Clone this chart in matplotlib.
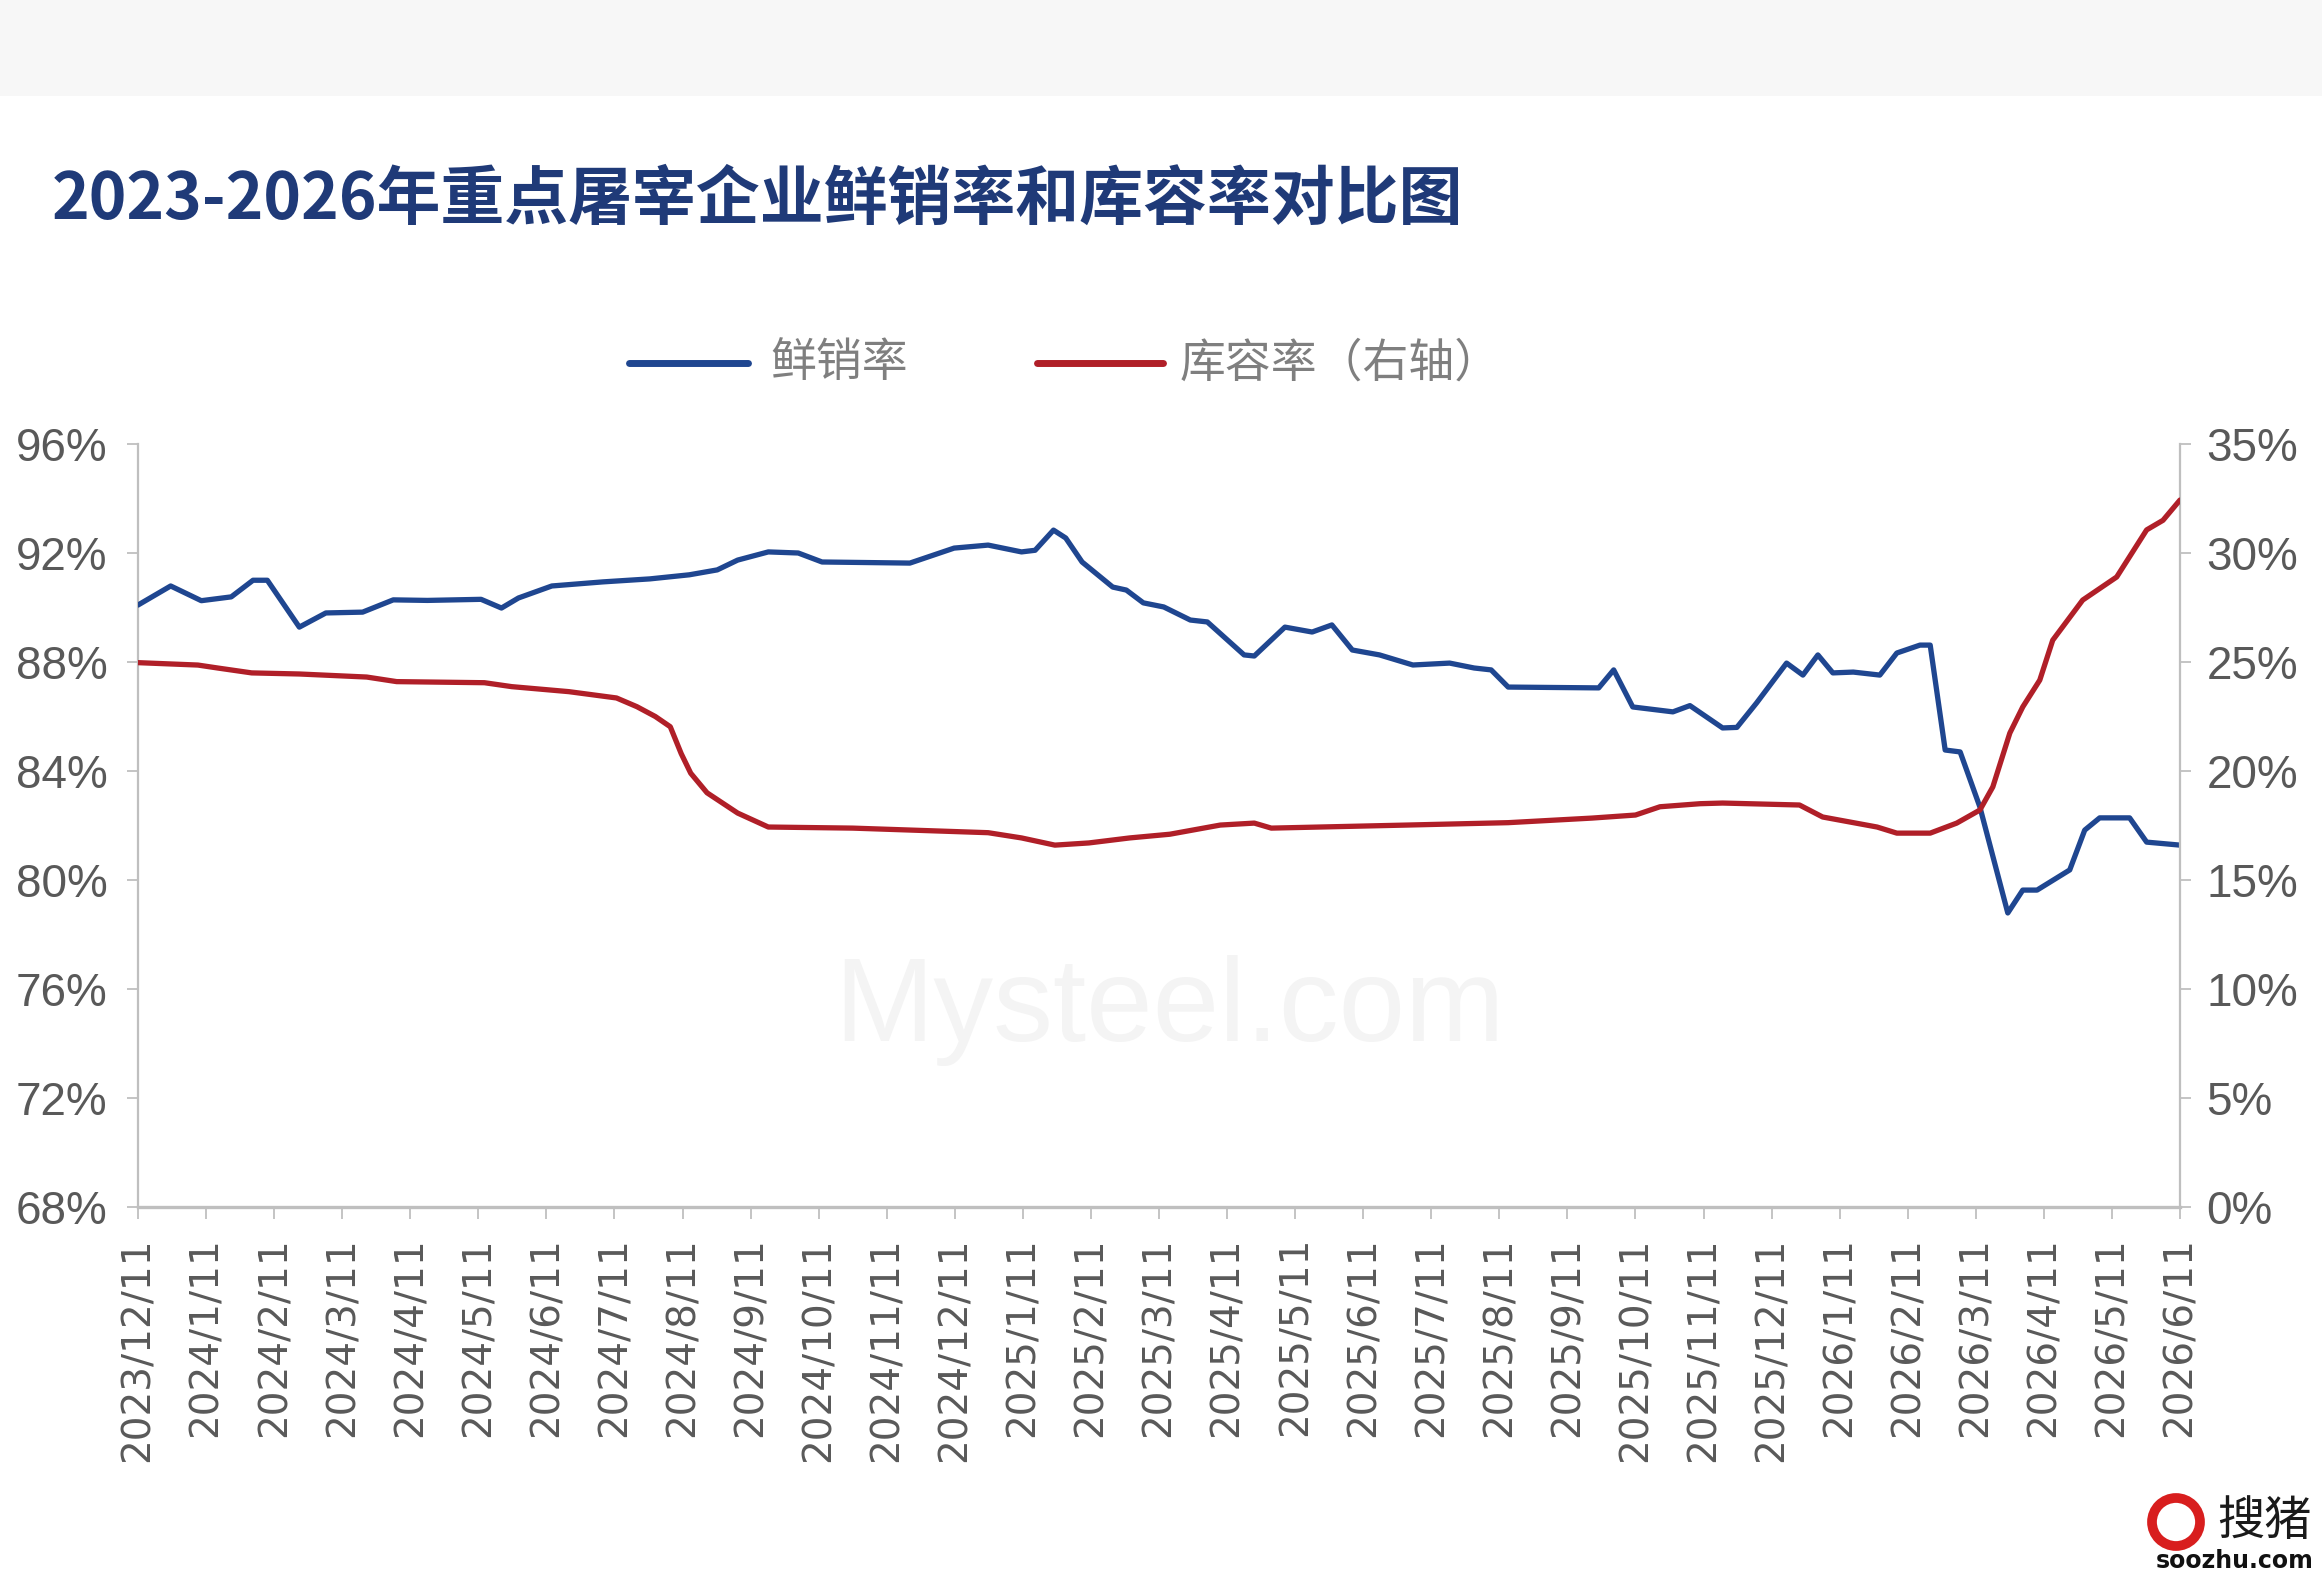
import matplotlib
matplotlib.use("Agg")
import matplotlib.pyplot as plt
from matplotlib import font_manager as fm
from matplotlib.lines import Line2D
from matplotlib.patches import Rectangle, Circle
from matplotlib.ticker import FixedLocator, FuncFormatter

# ---------------- data ----------------
title = "2023-2026年重点屠宰企业鲜销率和库容率对比图"
series_names = ["鲜销率", "库容率（右轴）"]

x_labels = ["2023/12/11", "2024/1/11", "2024/2/11", "2024/3/11", "2024/4/11", "2024/5/11",
            "2024/6/11", "2024/7/11", "2024/8/11", "2024/9/11", "2024/10/11", "2024/11/11",
            "2024/12/11", "2025/1/11", "2025/2/11", "2025/3/11", "2025/4/11", "2025/5/11",
            "2025/6/11", "2025/7/11", "2025/8/11", "2025/9/11", "2025/10/11", "2025/11/11",
            "2025/12/11", "2026/1/11", "2026/2/11", "2026/3/11", "2026/4/11", "2026/5/11",
            "2026/6/11"]

# month offsets from 2023/12/11 and values (%)
fresh_month = [0, 0.48, 0.93, 1.37, 1.69, 1.9, 2.37, 2.76, 3.3, 3.75, 4.25, 5.04, 5.34, 5.59,
               6.08, 6.83, 7.52, 8.1, 8.51, 8.81, 9.26, 9.70, 10.05, 11.34, 11.99, 12.49, 12.98,
               13.18, 13.45, 13.63, 13.87, 14.32, 14.52, 14.77, 15.07, 15.46, 15.71, 16.25, 16.4,
               16.85, 17.25, 17.54, 17.84, 18.24, 18.73, 19.27, 19.63, 19.88, 20.13, 21.46, 21.68,
               21.96, 22.55, 22.8, 23.28, 23.49, 23.78, 24.22, 24.46, 24.68, 24.9, 25.2, 25.59,
               25.84, 26.18, 26.33, 26.55, 26.77, 27.06, 27.47, 27.69, 27.9, 28.38, 28.6, 28.82,
               29.26, 29.51, 30.0]
fresh_rate = [90.09, 90.79, 90.25, 90.39, 91.0, 91.0, 89.28, 89.8, 89.83, 90.28, 90.26, 90.3,
              89.98, 90.35, 90.79, 90.94, 91.05, 91.2, 91.38, 91.74, 92.04, 92.0, 91.67, 91.63,
              92.18, 92.29, 92.04, 92.1, 92.84, 92.55, 91.67, 90.75, 90.64, 90.17, 90.02, 89.54,
              89.47, 88.26, 88.22, 89.28, 89.1, 89.36, 88.44, 88.26, 87.89, 87.96, 87.78, 87.71,
              87.08, 87.05, 87.71, 86.35, 86.17, 86.4, 85.58, 85.6, 86.5, 87.96, 87.52, 88.26,
              87.6, 87.63, 87.52, 88.33, 88.62, 88.62, 84.77, 84.7, 82.68, 78.79, 79.63, 79.63,
              80.37, 81.83, 82.28, 82.28, 81.39, 81.28]

storage_month = [0, 0.88, 1.18, 1.67, 2.37, 3.36, 3.8, 5.09, 5.49, 6.33, 7.03, 7.33, 7.6, 7.82,
                 7.98, 8.12, 8.36, 8.81, 9.26, 10.5, 12.49, 12.98, 13.47, 13.97, 14.57, 15.16,
                 15.9, 16.4, 16.65, 18.64, 20.13, 21.36, 22.0, 22.36, 22.95, 23.28, 24.41, 24.75,
                 25.55, 25.84, 26.33, 26.72, 27.06, 27.25, 27.5, 27.69, 27.94, 28.13, 28.57,
                 29.07, 29.51, 29.75, 30.0]
storage_rate = [24.97, 24.86, 24.72, 24.5, 24.45, 24.31, 24.1, 24.05, 23.87, 23.64, 23.35, 22.95,
                22.5, 22.03, 20.8, 19.9, 19.0, 18.07, 17.43, 17.38, 17.17, 16.93, 16.6, 16.7,
                16.93, 17.1, 17.52, 17.61, 17.38, 17.52, 17.63, 17.84, 17.98, 18.36, 18.5, 18.53,
                18.44, 17.89, 17.43, 17.15, 17.15, 17.61, 18.21, 19.27, 21.74, 22.94, 24.17,
                26.0, 27.84, 28.9, 31.06, 31.5, 32.43]

left_ticks = [68, 72, 76, 80, 84, 88, 92, 96]
right_ticks = [0, 5, 10, 15, 20, 25, 30, 35]

# ---------------- style ----------------
names = {f.name for f in fm.fontManager.ttflist}
narrow = "Liberation Sans Narrow" if "Liberation Sans Narrow" in names else "Liberation Sans"
cjk = "Noto Sans CJK SC"
BLUE = "#1f4690"
RED = "#b01f28"
GRAY_TXT = "#595959"
AXIS = "#bfbfbf"

W, H = 2322, 1572
fig = plt.figure(figsize=(W / 100, H / 100), dpi=100)
fig.patch.set_facecolor("white")
fig.patches.append(Rectangle((0, 1 - 96 / H), 1, 96 / H, transform=fig.transFigure,
                             facecolor="#f7f7f7", edgecolor="none", zorder=0))

L, R, T, B = 138, 2180, 444, 1207
ax = fig.add_axes([L / W, 1 - B / H, (R - L) / W, (B - T) / H])
ax2 = ax.twinx()

ax.plot(fresh_month, fresh_rate, color=BLUE, lw=3.8, solid_joinstyle="round",
        solid_capstyle="round", zorder=3)
ax2.plot(storage_month, storage_rate, color=RED, lw=3.8, solid_joinstyle="round",
         solid_capstyle="round", zorder=3)

ax.set_xlim(0, 30)
ax.set_ylim(68, 96)
ax2.set_ylim(0, 35)

ax.xaxis.set_major_locator(FixedLocator(list(range(len(x_labels)))))
ax.set_xticklabels(x_labels, rotation=90, fontsize=28, color=GRAY_TXT, family="DejaVu Sans",
                   va="top", ha="center")
ax.tick_params(axis="x", direction="out", length=8.6, width=1.3, color=AXIS, pad=13)

ax.yaxis.set_major_locator(FixedLocator(left_ticks))
ax.yaxis.set_major_formatter(FuncFormatter(lambda v, p: f"{v:.0f}%"))
ax.tick_params(axis="y", direction="out", length=8, width=1.3, color=AXIS, pad=14,
               labelsize=33, labelcolor=GRAY_TXT)
ax2.yaxis.set_major_locator(FixedLocator(right_ticks))
ax2.yaxis.set_major_formatter(FuncFormatter(lambda v, p: f"{v:.0f}%"))
ax2.tick_params(axis="y", direction="out", length=8, width=1.3, color=AXIS, pad=11,
                labelsize=33, labelcolor=GRAY_TXT)
for lab in ax.get_yticklabels() + ax2.get_yticklabels():
    lab.set_family(narrow)

for a in (ax, ax2):
    a.spines["top"].set_visible(False)
ax.spines["right"].set_visible(False)
ax2.spines["left"].set_visible(False)
ax2.spines["bottom"].set_visible(False)
ax.spines["left"].set_color(AXIS)
ax.spines["left"].set_linewidth(1.6)
ax.spines["bottom"].set_color(AXIS)
ax.spines["bottom"].set_linewidth(2.4)
ax2.spines["right"].set_color(AXIS)
ax2.spines["right"].set_linewidth(1.6)

# watermark
ax.text(1170 / W, 1 - 1010 / H, "Mysteel.com", transform=fig.transFigure, fontsize=86,
        color="#f4f4f4", ha="center", va="center", family="Liberation Sans", zorder=0)

# title
fig.text(52 / W, 1 - 200 / H, title, fontsize=46, fontweight="bold", color="#1f3a78",
         family=[cjk, "DejaVu Sans"], ha="left", va="center")

# legend
ly = 1 - 363 / H
fig.add_artist(Line2D([629 / W, 748 / W], [ly, ly], color=BLUE, lw=5, transform=fig.transFigure,
                      solid_capstyle="round"))
fig.text(770 / W, ly, series_names[0], fontsize=33, color="#7f7f7f", family=[cjk],
         ha="left", va="center", fontweight="light")
fig.add_artist(Line2D([1037 / W, 1163 / W], [ly, ly], color=RED, lw=5, transform=fig.transFigure,
                      solid_capstyle="round"))
fig.text(1180 / W, ly, series_names[1], fontsize=33, color="#7f7f7f", family=[cjk],
         ha="left", va="center", fontweight="light")

# soozhu mark
fig.patches.append(Circle((2176, H - 1522), 24, transform=None, fill=False,
                          edgecolor="#d81e1e", lw=7))
fig.text(2312 / W, 1 - 1522 / H, "搜猪", fontsize=34, color="#1a1a1a", family=[cjk],
         ha="right", va="center")
fig.text(2314 / W, 1 - 1561 / H, "soozhu.com", fontsize=17, fontweight="bold", color="#111111",
         family="DejaVu Sans", ha="right", va="center")

fig.savefig("out.png", dpi=100, facecolor="white")
